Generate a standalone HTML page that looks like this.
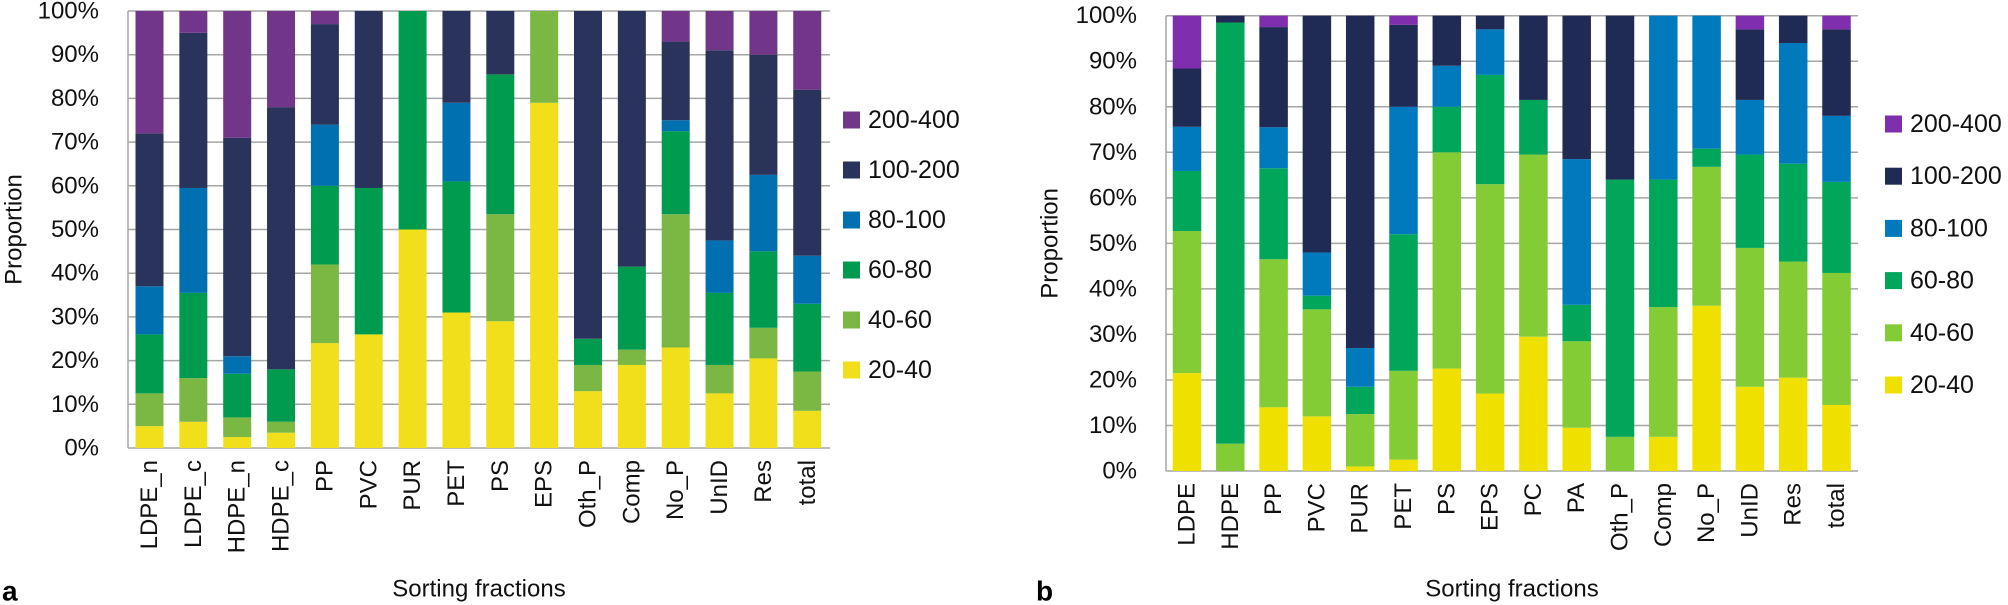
<!DOCTYPE html>
<html><head><meta charset="utf-8"><style>
html,body{margin:0;padding:0;background:#fff;}
svg{display:block;font-family:"Liberation Sans",sans-serif;}
</style></head><body>
<svg id="root" width="2008" height="605" viewBox="0 0 2008 605"></svg>
<script>
const seriesNames = ["20-40","40-60","60-80","80-100","100-200","200-400"];
const yTicks = [0,10,20,30,40,50,60,70,80,90,100];
const catsA = ["LDPE_n","LDPE_c","HDPE_n","HDPE_c","PP","PVC","PUR","PET","PS","EPS","Oth_P","Comp","No_P","UnID","Res","total"];
const a20 = [5,6,2.5,3.5,24,26,50,31,29,79,13,19,23,12.5,20.5,8.5];
const a40 = [7.5,10,4.5,2.5,18,0,0,0,24.5,21,6,3.5,30.5,6.5,7,9];
const a60 = [13.5,19.5,10,12,18,33.5,50,30,32,0,6,19,19,16.5,17.5,15.5];
const a80 = [11,24,4,0,14,0,0,18,0,0,0,0,2.5,12,17.5,11];
const a100 = [35,35.5,50,60,23,40.5,0,21,14.5,0,75,58.5,18,43.5,27.5,38];
const a200 = [28,5,29,22,3,0,0,0,0,0,0,0,7,9,10,18];
const catsB = ["LDPE","HDPE","PP","PVC","PUR","PET","PS","EPS","PC","PA","Oth_P","Comp","No_P","UnID","Res","total"];
const b20 = [21.5,0,14,12,1,2.5,22.5,17,29.5,9.5,0,7.5,36.3,18.5,20.5,14.5];
const b40 = [31.2,6,32.5,23.5,11.5,19.5,47.5,46,40,19,7.5,28.5,30.5,30.5,25.5,29];
const b60 = [13.2,92.5,20,3,6,30,10,24,12,8,56.5,28,4,20.5,21.5,20];
const b80 = [9.7,0,9,9.5,8.5,28,9,10,0,32,0,36,29.2,12,26.5,14.5];
const b100 = [12.8,1.5,22,52,73,18,11,3,18.5,31.5,36,0,0,15.5,6,19];
const b200 = [11.6,0,2.5,0,0,2,0,0,0,0,0,0,0,3,0,3];

const NS="http://www.w3.org/2000/svg";
const root=document.getElementById('root');
function mk(tag,attrs,parent){const e=document.createElementNS(NS,tag);for(const k in attrs)e.setAttribute(k,attrs[k]);(parent||root).appendChild(e);return e;}

function chart(cfg){
  const g=mk('g',{});
  
  
  const y=v=>cfg.y0-(cfg.y0-cfg.y100)*v/100;
  const x=i=>cfg.c0+i*cfg.pitch;
  yTicks.forEach(t=>{
    const ln=mk('line',{x1:cfg.left,x2:cfg.right,y1:y(t),y2:y(t),stroke:'#a6a6a6','stroke-width':1.5},g);
    
    
    const tx=mk('text',{x:cfg.tickX,y:y(t),'text-anchor':'end','dominant-baseline':'central','font-size':24,fill:'#111'},g);
    tx.textContent=t+'%';
    
    
  });
  const ax=mk('line',{x1:cfg.left,x2:cfg.left,y1:cfg.y100,y2:cfg.y0,stroke:'#a6a6a6','stroke-width':1.5},g);
  
  
  cfg.cats.forEach((c,i)=>{
    let acc=0;
    cfg.series.forEach((s,k)=>{
      const v=s[i];
      if(v>0){
        const r=mk('rect',{x:x(i)-cfg.bw/2,y:y(acc+v),width:cfg.bw,height:y(acc)-y(acc+v),fill:cfg.colors[k]},g);
        
        
      }
      acc+=v;
    });
    const t=mk('text',{x:x(i),y:cfg.y0+12,'text-anchor':'end','dominant-baseline':'central','font-size':24,fill:'#111',transform:`rotate(-90 ${x(i)} ${cfg.y0+12})`},g);
    t.textContent=c;
    
    
  });
  const yt=mk('text',{x:cfg.ytX,y:(cfg.y0+cfg.y100)/2,'text-anchor':'middle','dominant-baseline':'central','font-size':24,fill:'#111',transform:`rotate(-90 ${cfg.ytX} ${(cfg.y0+cfg.y100)/2})`},g);
  yt.textContent='Proportion';
  
  
  const xt=mk('text',{x:(cfg.left+cfg.right)/2,y:589,'text-anchor':'middle','dominant-baseline':'central','font-size':24,fill:'#111'},g);
  xt.textContent='Sorting fractions';
  
  
  const pl=mk('text',{x:cfg.panelX,y:591,'dominant-baseline':'central','font-size':28,'font-weight':'bold',fill:'#000'},g);
  pl.textContent=cfg.panel;
  
  
  for(let k=5;k>=0;k--){
    const ly=cfg.legY0+(5-k)*cfg.legStep;
    const sq=mk('rect',{x:cfg.legX,y:ly-8.5,width:17,height:17,fill:cfg.colors[k]},g);
    
    
    const lt=mk('text',{x:cfg.legX+25,y:ly,'dominant-baseline':'central','font-size':25,fill:'#111'},g);
    lt.textContent=seriesNames[k];
    
    
  }
}
chart({name:'chart-a',cats:catsA,series:[a20,a40,a60,a80,a100,a200],
  colors:['#f0df1a','#7ab843','#009b4f','#0070b0','#29335c','#71368a'],
  left:128,right:830,y100:11,y0:448,c0:149.5,pitch:43.85,bw:28,tickX:99,ytX:14,
  panel:'a',panelX:2,legX:843,legY0:120,legStep:50});
chart({name:'chart-b',cats:catsB,series:[b20,b40,b60,b80,b100,b200],
  colors:['#f0e000','#84cc35','#00a65a','#0079bd','#1f2a55','#7f2ead'],
  left:1166,right:1858,y100:15.7,y0:471,c0:1187,pitch:43.3,bw:28.5,tickX:1137,ytX:1050,
  panel:'b',panelX:1036,legX:1885,legY0:124,legStep:52.2});
</script>
</body></html>
